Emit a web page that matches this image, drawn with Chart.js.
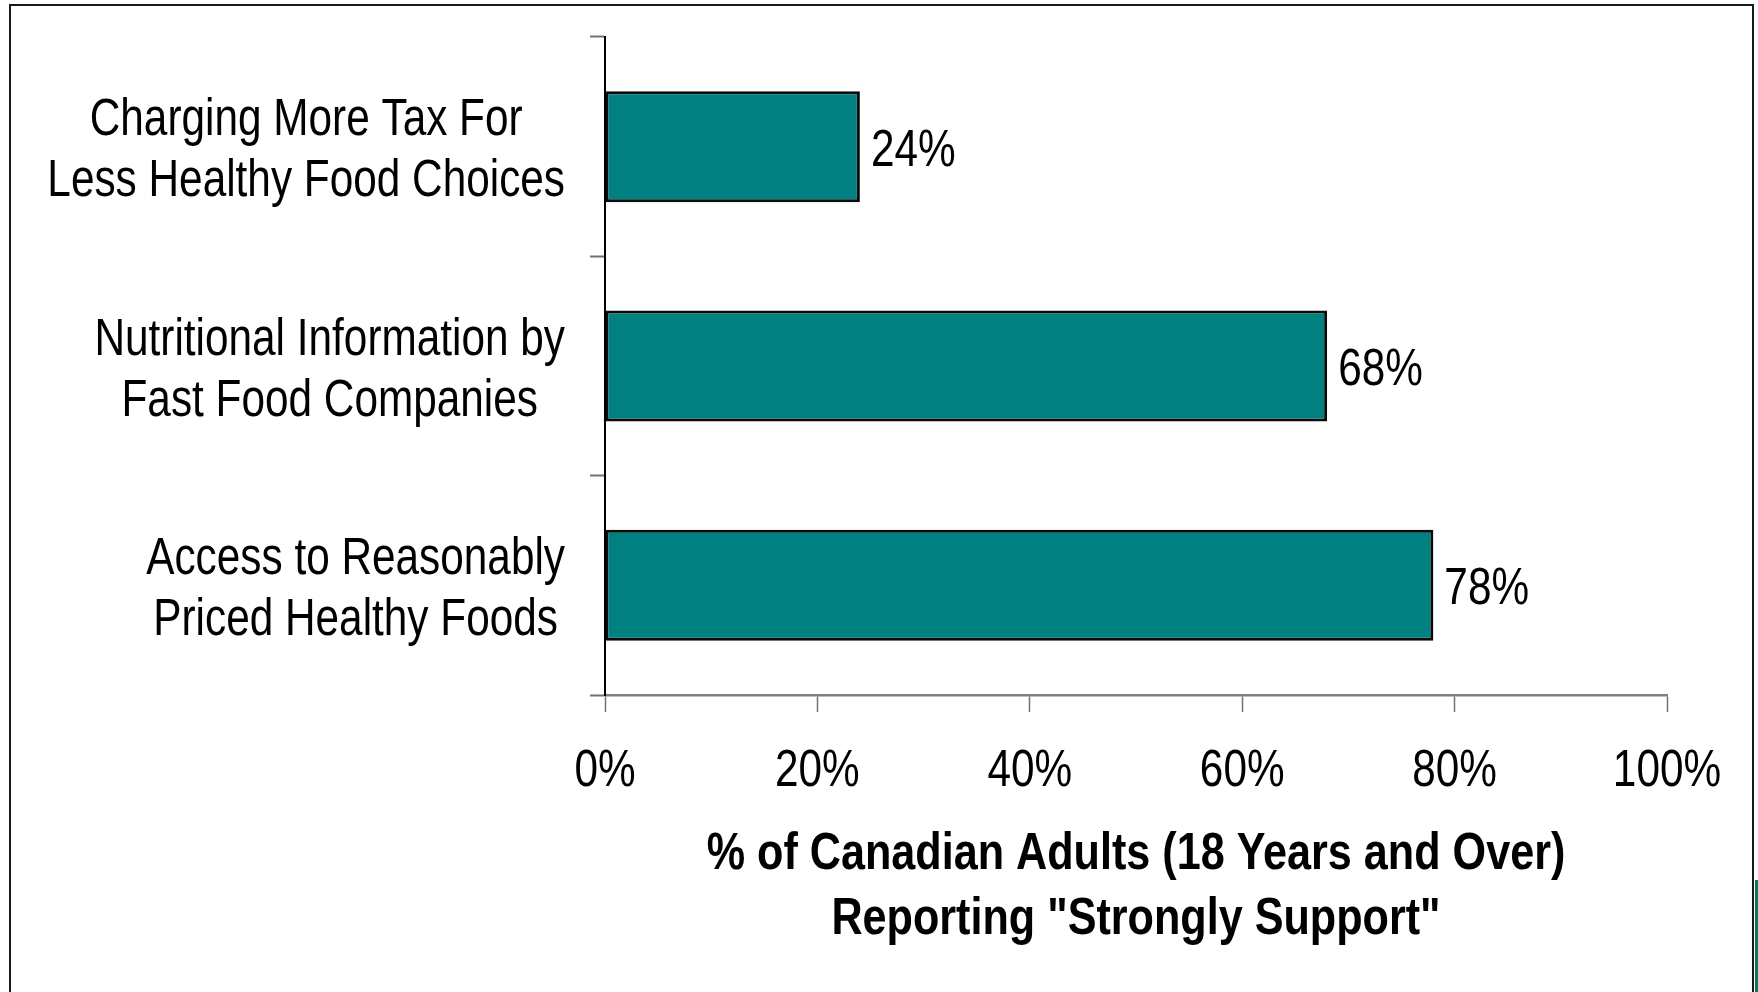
<!DOCTYPE html>
<html>
<head>
<meta charset="utf-8">
<title>Support for Healthy Eating Policies</title>
<script src="https://cdn.jsdelivr.net/npm/chart.js@4.4.1/dist/chart.umd.min.js"></script>
<style>
  html, body { margin: 0; padding: 0; background: #ffffff; }
  #wrap { width: 1758px; height: 992px; }
</style>
</head>
<body>
<div id="wrap"><canvas id="chart" width="1758" height="992"></canvas></div>
<script>
// Policy options, listed top to bottom
const categories = [
  ['Charging More Tax For', 'Less Healthy Food Choices'],
  ['Nutritional Information by', 'Fast Food Companies'],
  ['Access to Reasonably', 'Priced Healthy Foods']
];
// Share of adults who strongly support each option (%)
const strongSupport = [24, 68, 78];
// Horizontal axis ticks
const xTicks = [0, 20, 40, 60, 80, 100];
const xTitle = ['% of Canadian Adults (18 Years and Over)', 'Reporting "Strongly Support"'];

const FAMILY = "'Liberation Sans', Arial, sans-serif";
const TEXT_SIZE = 51;
const TITLE_SIZE = 52;
const CONDENSE = 0.83;   // narrow, condensed lettering

// Condensed text: squeeze horizontally around the anchor point
function narrowText(ctx, text, x, y, align, font) {
  ctx.save();
  ctx.font = font;
  ctx.fillStyle = '#000000';
  ctx.textAlign = align;
  ctx.textBaseline = 'middle';
  ctx.translate(x, y);
  ctx.scale(CONDENSE, 1);
  ctx.fillText(text, 0, 0);
  ctx.restore();
}
function narrowWidth(ctx, text, font) {
  ctx.save();
  ctx.font = font;
  const w = ctx.measureText(text).width * CONDENSE;
  ctx.restore();
  return w;
}

// White slide background, outer frame and the small accent at the lower right
const framePlugin = {
  id: 'frame',
  beforeDraw(chart) {
    const ctx = chart.ctx;
    ctx.save();
    ctx.fillStyle = '#ffffff';
    ctx.fillRect(0, 0, chart.width, chart.height);
    ctx.strokeStyle = '#1a1a1a';
    ctx.lineWidth = 2;
    ctx.beginPath();
    ctx.moveTo(10, chart.height + 2);
    ctx.lineTo(10, 5);
    ctx.lineTo(1753, 5);
    ctx.lineTo(1753, chart.height + 2);
    ctx.stroke();
    ctx.fillStyle = '#0b7a5c';
    ctx.fillRect(1755, 880, 3, chart.height - 880);
    ctx.restore();
  }
};

// Category names: each block sits against a common right edge, its lines centred within it
const categoryLabelPlugin = {
  id: 'categoryLabels',
  afterDraw(chart) {
    const ctx = chart.ctx;
    const yScale = chart.scales.y;
    const font = TEXT_SIZE + 'px ' + FAMILY;
    const rightEdge = yScale.right - 40;
    const lineGap = 61;
    categories.forEach((lines, i) => {
      const widest = Math.max(...lines.map(l => narrowWidth(ctx, l, font)));
      const cx = rightEdge - widest / 2;
      const cy = yScale.getPixelForValue(i) + 5;
      const startY = cy - (lines.length - 1) * lineGap / 2;
      lines.forEach((line, k) => narrowText(ctx, line, cx, startY + k * lineGap, 'center', font));
    });
  }
};

// Tick labels and the two-line title under the horizontal axis
const xAxisTextPlugin = {
  id: 'xAxisText',
  afterDraw(chart) {
    const ctx = chart.ctx;
    const xScale = chart.scales.x;
    const area = chart.chartArea;
    const tickFont = TEXT_SIZE + 'px ' + FAMILY;
    xTicks.forEach(v => {
      narrowText(ctx, v + '%', xScale.getPixelForValue(v), area.bottom + 77, 'center', tickFont);
    });
    const titleFont = 'bold ' + TITLE_SIZE + 'px ' + FAMILY;
    const cx = (area.left + area.right) / 2;
    xTitle.forEach((line, k) => {
      narrowText(ctx, line, cx, area.bottom + 160 + k * 65, 'center', titleFont);
    });
  }
};

// Value labels at the end of each bar
const valueLabelPlugin = {
  id: 'valueLabels',
  afterDatasetsDraw(chart) {
    const ctx = chart.ctx;
    const meta = chart.getDatasetMeta(0);
    const font = TEXT_SIZE + 'px ' + FAMILY;
    meta.data.forEach((bar, i) => {
      narrowText(ctx, strongSupport[i] + '%', bar.x + 11, bar.y + 5, 'left', font);
    });
  }
};

new Chart(document.getElementById('chart'), {
  type: 'bar',
  data: {
    labels: categories,
    datasets: [{
      data: strongSupport,
      backgroundColor: '#008080',
      borderColor: '#0a0a0a',
      borderWidth: 3,
      borderSkipped: false,
      barPercentage: 0.506,
      categoryPercentage: 1
    }]
  },
  options: {
    indexAxis: 'y',
    responsive: false,
    animation: false,
    events: [],
    layout: { padding: { top: 37, right: 91, left: 0, bottom: 0 } },
    plugins: {
      legend: { display: false },
      tooltip: { enabled: false },
      title: { display: false }
    },
    scales: {
      x: {
        type: 'linear',
        min: 0,
        max: 100,
        afterBuildTicks(scale) {
          scale.ticks = xTicks.map(v => ({ value: v }));
        },
        afterFit(scale) { scale.height = 297; },
        ticks: { display: false },
        grid: {
          drawOnChartArea: false,
          drawTicks: true,
          tickLength: 17,
          tickWidth: 1.5,
          tickColor: '#707070'
        },
        border: { display: true, color: '#808080', width: 2.5 },
        title: { display: false }
      },
      y: {
        type: 'category',
        offset: true,
        afterFit(scale) { scale.width = 605; },
        ticks: { display: false },
        grid: {
          offset: true,
          drawOnChartArea: false,
          drawTicks: true,
          tickLength: 15,
          tickWidth: 2,
          tickColor: '#707070'
        },
        border: { display: true, color: '#000000', width: 2 }
      }
    }
  },
  plugins: [framePlugin, categoryLabelPlugin, xAxisTextPlugin, valueLabelPlugin]
});
</script>
</body>
</html>
